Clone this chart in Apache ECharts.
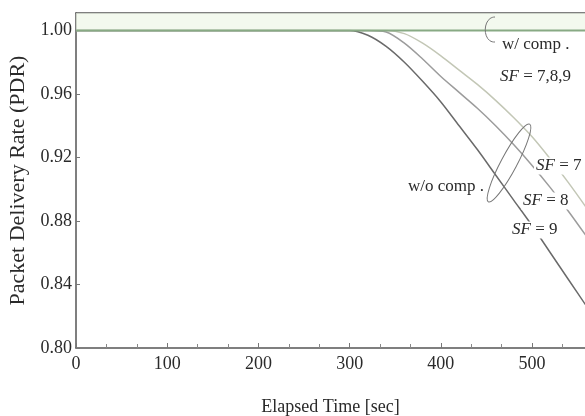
<!DOCTYPE html>
<html>
<head>
<meta charset="utf-8">
<script src="https://cdn.jsdelivr.net/npm/echarts@6/dist/echarts.min.js"></script>
<style>
  html, body { margin: 0; padding: 0; background: #fff; }
  #main { width: 585px; height: 416px; }
</style>
</head>
<body>
<div id="main"></div>
<script>
"use strict";

// elapsed time [sec]
var timeSec = [0, 300, 320, 340, 360, 380, 400, 420, 440, 460, 480, 500, 520, 540, 560];
// PDR with compensation (SF = 7,8,9 overlap)
var pdrComp = [1, 1, 1, 1, 1, 1, 1, 1, 1, 1, 1, 1, 1, 1, 1];
// PDR without compensation
var pdrSF7 = [1, 1, 1, 1, 0.998, 0.992, 0.984, 0.975, 0.966, 0.956, 0.945, 0.933, 0.919, 0.904, 0.888];
var pdrSF8 = [1, 1, 1, 0.999, 0.992, 0.982, 0.971, 0.961, 0.951, 0.940, 0.928, 0.915, 0.901, 0.886, 0.870];
var pdrSF9 = [1, 1, 0.997, 0.990, 0.980, 0.968, 0.955, 0.940, 0.925, 0.909, 0.893, 0.877, 0.860, 0.843, 0.826];
var yTicks = [0.80, 0.84, 0.88, 0.92, 0.96, 1.00];

var FONT = '"Liberation Serif", "DejaVu Serif", serif';
var TEXT = '#2a2a2a';

function pairs(ys) {
    return timeSec.map(function (t, i) { return [t, ys[i]]; });
}

var chart = echarts.init(document.getElementById('main'));

function lineSeries(name, ys, color, width) {
    return {
        name: name,
        type: 'line',
        data: pairs(ys),
        smooth: 0.3,
        showSymbol: false,
        lineStyle: { color: color, width: width },
        z: 3
    };
}

function sfLabel(x, y, rest) {
    return {
        type: 'text', z: 101, x: x, y: y,
        style: {
            text: '{i|SF} = ' + rest, font: '17px ' + FONT, fill: TEXT, verticalAlign: 'middle',
            backgroundColor: '#fff', padding: [0, 2],
            rich: { i: { fontStyle: 'italic', fontFamily: FONT, fontSize: 17, fill: TEXT } }
        }
    };
}

var option = {
    backgroundColor: '#fff',
    animation: false,
    grid: { left: 76, right: 0, top: 13, bottom: 68, outerBoundsMode: 'none', containLabel: false },
    xAxis: [
        {
            type: 'value',
            min: 0,
            max: 558,
            interval: 100,
            name: 'Elapsed Time [sec]',
            nameLocation: 'middle',
            nameGap: 50,
            nameTextStyle: { fontFamily: FONT, fontSize: 18, color: TEXT },
            axisLine: { lineStyle: { color: '#555', width: 1.5 } },
            axisTick: { inside: true, length: 5, lineStyle: { color: '#777' } },
            minorTick: { show: true, splitNumber: 3, length: 4, lineStyle: { color: '#888' } },
            splitLine: { show: false },
            axisLabel: {
                fontFamily: FONT, fontSize: 18, color: TEXT, margin: 7,
                showMaxLabel: false
            }
        },
        {
            type: 'value',
            position: 'top',
            min: 0,
            max: 558,
            axisLine: { show: true, lineStyle: { color: '#555', width: 1.5 } },
            axisTick: { show: false },
            axisLabel: { show: false },
            splitLine: { show: false }
        }
    ],
    yAxis: {
        type: 'value',
        min: yTicks[0],
        max: 1.011,
        interval: 0.04,
        name: 'Packet Delivery Rate (PDR)',
        nameLocation: 'middle',
        nameGap: 42,
        nameTextStyle: { fontFamily: FONT, fontSize: 22, color: TEXT },
        axisLine: { show: true, lineStyle: { color: '#555', width: 1.5 } },
        axisTick: { show: true, inside: true, length: 4, lineStyle: { color: '#777' } },
        splitLine: { show: false },
        axisLabel: {
            fontFamily: FONT, fontSize: 18, color: TEXT, margin: 4,
            showMaxLabel: false,
            formatter: function (v) { return v.toFixed(2); }
        }
    },
    series: [
        lineSeries('w/o comp. SF=7', pdrSF7, '#c3c7b6', 1.5),
        lineSeries('w/o comp. SF=8', pdrSF8, '#9c9c9c', 1.5),
        lineSeries('w/o comp. SF=9', pdrSF9, '#6a6a6a', 1.5),
        {
            name: 'w/ comp.',
            type: 'line',
            data: pairs(pdrComp),
            showSymbol: false,
            lineStyle: { color: '#88aa84', width: 2 },
            areaStyle: { origin: 'end', color: '#eef6e7' },
            z: 4
        }
    ],
    graphic: [
        {
            type: 'bezierCurve', z: 100,
            shape: { x1: 495, y1: 17, cpx1: 482, cpy1: 17, cpx2: 482, cpy2: 43, x2: 495, y2: 42 },
            style: { stroke: '#777', lineWidth: 1, fill: null }
        },
        {
            type: 'ellipse', z: 100,
            x: 509, y: 163,
            rotation: 62 * Math.PI / 180,
            shape: { cx: 0, cy: 0, rx: 44, ry: 8 },
            style: { stroke: '#777', lineWidth: 1, fill: null }
        },
        {
            type: 'text', z: 101, x: 502, y: 45,
            style: { text: 'w/ comp .', font: '17px ' + FONT, fill: TEXT, verticalAlign: 'middle' }
        },
        {
            type: 'text', z: 101, x: 500, y: 77,
            style: {
                text: '{i|SF} = 7,8,9', font: '17px ' + FONT, fill: TEXT, verticalAlign: 'middle',
                rich: { i: { fontStyle: 'italic', fontFamily: FONT, fontSize: 17, fill: TEXT } }
            }
        },
        {
            type: 'text', z: 101, x: 408, y: 187,
            style: { text: 'w/o comp .', font: '17px ' + FONT, fill: TEXT, verticalAlign: 'middle' }
        },
        sfLabel(534, 166, '7'),
        sfLabel(521, 201, '8'),
        sfLabel(510, 230, '9')
    ]
};

chart.setOption(option);
</script>
</body>
</html>
